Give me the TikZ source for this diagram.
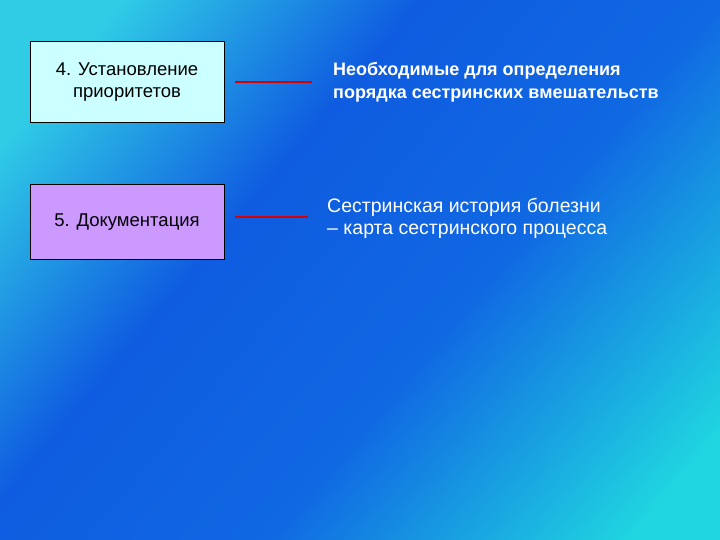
\documentclass[tikz,border=0pt]{standalone}
\usepackage{fontspec}
\setmainfont{Liberation Sans}
\definecolor{c1}{HTML}{30CCE6}
\definecolor{c2}{HTML}{0F5CE0}
\definecolor{c3}{HTML}{1068E2}
\definecolor{c4}{HTML}{20D6E0}
\definecolor{boxcyan}{HTML}{CCFFFF}
\definecolor{boxlav}{HTML}{CC99FF}
\pgfdeclarehorizontalshading{bgshade}{100bp}{
  color(0bp)=(c1); color(22bp)=(c1); color(40bp)=(c2); color(58bp)=(c3); color(80bp)=(c4); color(100bp)=(c4)}
\tikzset{
  stagebox/.style={draw=black, line width=1pt, minimum width=194pt, align=center, font=\fontsize{18.5}{22}\selectfont, text=black},
  link/.style={draw=red!85!black, line width=1.2pt},
  note/.style={anchor=north west, align=left, text=white, inner sep=0pt}
}
\begin{document}
\begin{tikzpicture}[x=1pt,y=-1pt]
\useasboundingbox (0,0) rectangle (720,540);
\shade[shading=bgshade, shading angle=-40] (0,0) rectangle (720,540);
\node[stagebox, fill=boxcyan, minimum height=81pt] (b4) at (127,82.5) {4. Установление\\приоритетов};
\node[stagebox, fill=boxlav, minimum height=74pt] (b5) at (127,222) {5. Документация};
\coordinate (l4a) at (235,82); \coordinate (l4b) at (312,82);
\coordinate (l5a) at (235,217); \coordinate (l5b) at (308,217);
\draw[link] (l4a) -- (l4b);
\draw[link] (l5a) -- (l5b);
\node[note, font=\fontsize{18}{23}\selectfont\bfseries] (t4) at (333,62) {Необходимые для определения\\порядка сестринских вмешательств};
\node[note, font=\fontsize{19.5}{22}\selectfont] (t5) at (327,198) {Сестринская история болезни\\– карта сестринского процесса};
\end{tikzpicture}
\end{document}
